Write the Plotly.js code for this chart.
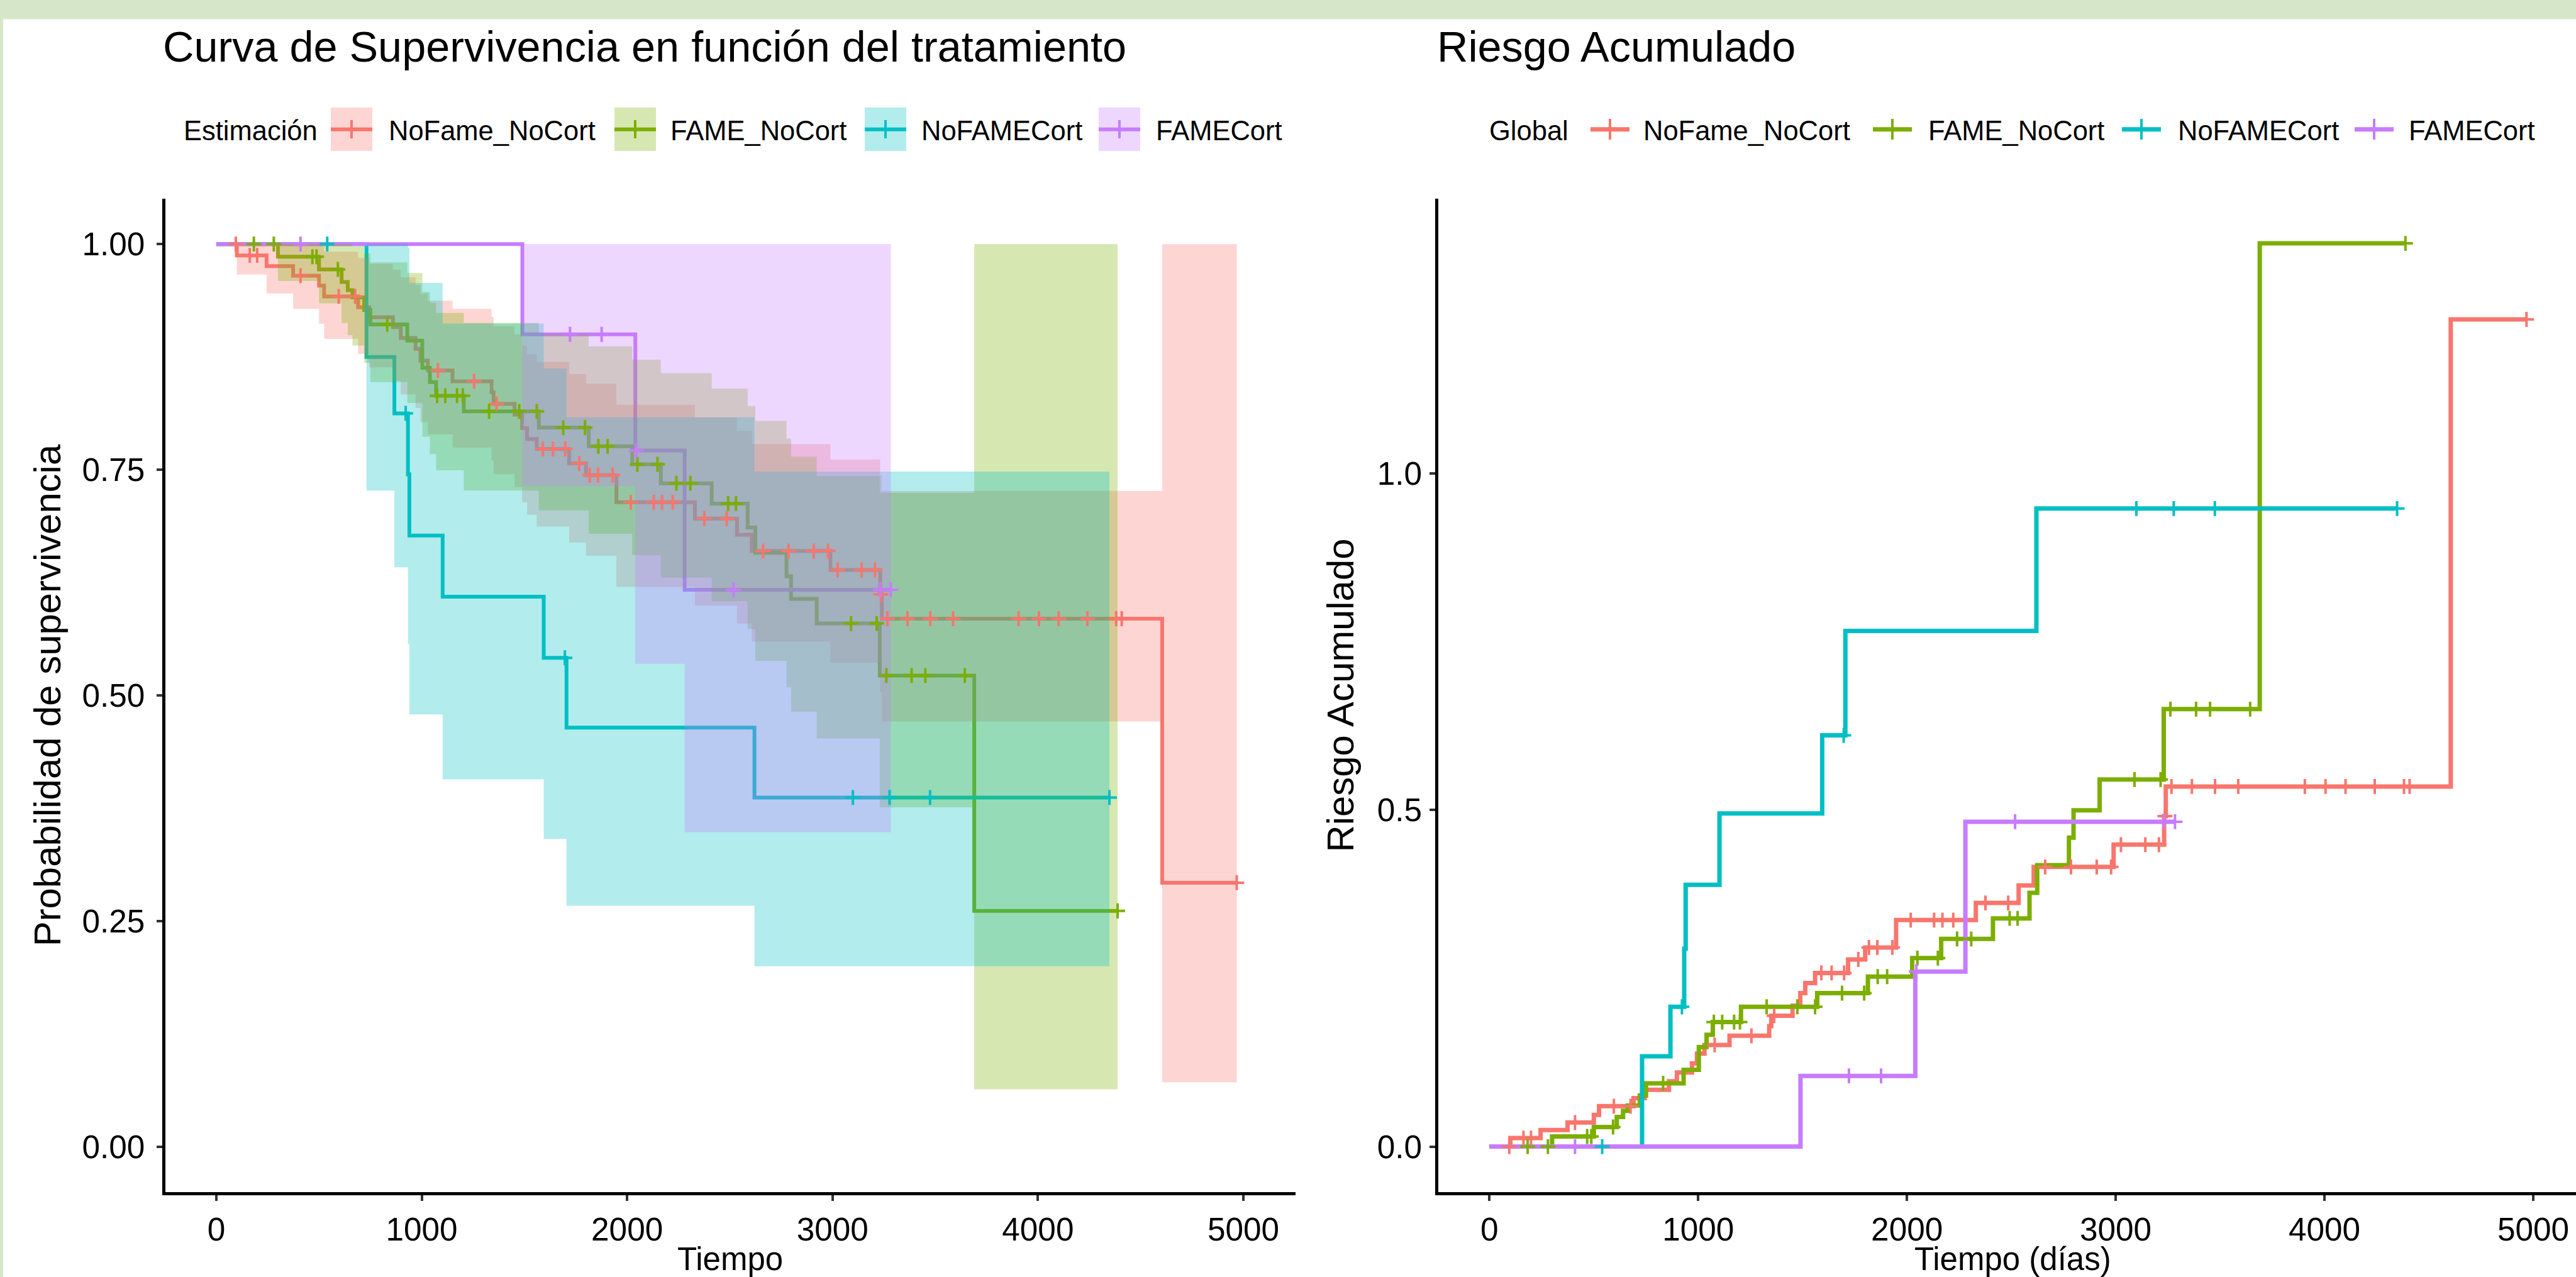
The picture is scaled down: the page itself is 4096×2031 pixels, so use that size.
<!DOCTYPE html>
<html><head><meta charset="utf-8">
<script src="https://cdn.plot.ly/plotly-3.0.1.min.js"></script>
<style>html,body{margin:0;padding:0;background:#fff;overflow:hidden}#chart{width:4096px;height:2031px}</style>
</head><body><div id="chart"></div>
<script>
// ---------- data ----------
const groupNames = ['NoFame_NoCort', 'FAME_NoCort', 'NoFAMECort', 'FAMECort'];
const groupColors = ['#F8766D', '#7CAE00', '#00BFC4', '#C77CFF'];

const redTime  = [0, 100, 245, 374, 500, 525, 690, 744, 860, 898, 970, 994, 1030, 1150, 1340, 1350, 1452, 1489, 1513, 1560, 1718, 1800, 1948, 2330, 2535, 2607, 2990, 3232, 3240, 4605];
const redSurv  = [1, 0.9875, 0.9755, 0.965, 0.954, 0.942, 0.930, 0.919, 0.908, 0.896, 0.884, 0.871, 0.860, 0.848, 0.836, 0.823, 0.811, 0.796, 0.784, 0.773, 0.757, 0.744, 0.714, 0.696, 0.678, 0.660, 0.639, 0.612, 0.585, 0.2925];
const redLower = [1, 0.9662, 0.9453, 0.9282, 0.9116, 0.8949, 0.8784, 0.8634, 0.8488, 0.8335, 0.8185, 0.8028, 0.7891, 0.7746, 0.7602, 0.7451, 0.7308, 0.7140, 0.7001, 0.6871, 0.6695, 0.6547, 0.6202, 0.5995, 0.5796, 0.5595, 0.5363, 0.5036, 0.4711, 0.0715];
const redUpper = [1, 1, 1, 1, 0.9984, 0.9916, 0.9846, 0.9782, 0.9714, 0.9632, 0.9547, 0.9450, 0.9372, 0.9283, 0.9193, 0.9091, 0.9000, 0.8874, 0.8780, 0.8696, 0.8559, 0.8454, 0.8220, 0.8081, 0.7931, 0.7785, 0.7614, 0.7438, 0.7265, 1];
const redHaz   = [0, 0.0126, 0.0246, 0.0357, 0.047, 0.060, 0.072, 0.0843, 0.097, 0.110, 0.1235, 0.138, 0.151, 0.1646, 0.179, 0.1944, 0.2094, 0.228, 0.243, 0.258, 0.278, 0.2958, 0.3365, 0.362, 0.388, 0.4155, 0.4486, 0.491, 0.535, 1.229];
const redEnd   = 4968;
const redCens  = [95, 163, 199, 410, 596, 676, 1079, 1255, 1364, 1590, 1639, 1699, 1767, 1818, 1858, 1930, 2018, 2130, 2170, 2222, 2376, 2485, 2662, 2786, 2909, 2978, 3025, 3142, 3207, 3236, 3267, 3365, 3476, 3587, 3906, 4005, 4101, 4241, 4381, 4408, 4968];

const greenTime  = [0, 300, 500, 610, 640, 663, 720, 750, 930, 1003, 1040, 1070, 1205, 1570, 1813, 2025, 2164, 2412, 2587, 2624, 2776, 2798, 2923, 3230, 3690];
const greenSurv  = [1, 0.986, 0.972, 0.958, 0.949, 0.941, 0.927, 0.911, 0.893, 0.863, 0.847, 0.832, 0.8146, 0.7967, 0.776, 0.756, 0.735, 0.7125, 0.686, 0.658, 0.632, 0.607, 0.5797, 0.522, 0.2613];
const greenLower = [1, 0.9590, 0.9343, 0.9125, 0.8992, 0.8877, 0.8685, 0.8471, 0.8239, 0.7866, 0.7673, 0.7494, 0.7270, 0.7049, 0.6791, 0.6555, 0.6304, 0.6044, 0.5736, 0.5384, 0.5091, 0.4819, 0.4523, 0.3761, 0.0636];
const greenUpper = [1, 1, 1, 1, 1, 0.9975, 0.9895, 0.9797, 0.9679, 0.9468, 0.9350, 0.9237, 0.9128, 0.9004, 0.8867, 0.8720, 0.8570, 0.8400, 0.8205, 0.8041, 0.7846, 0.7646, 0.7430, 0.7245, 1];
const greenHaz   = [0, 0.015, 0.029, 0.044, 0.053, 0.061, 0.076, 0.094, 0.114, 0.148, 0.166, 0.185, 0.2077, 0.228, 0.2525, 0.280, 0.3085, 0.339, 0.377, 0.418, 0.459, 0.4996, 0.5453, 0.650, 1.342];
const greenEnd   = 4388;
const greenCens  = [183, 280, 468, 488, 592, 832, 1075, 1115, 1172, 1200, 1328, 1475, 1560, 1689, 1795, 1860, 1905, 2050, 2148, 2240, 2308, 2492, 2530, 3090, 3215, 3262, 3385, 3452, 3644, 4388];

const cyanTime  = [0, 731, 867, 933, 940, 1102, 1594, 1705, 2620];
const cyanSurv  = [1, 0.875, 0.8125, 0.7448, 0.6771, 0.6094, 0.5417, 0.4643, 0.3869];
const cyanLower = [1, 0.727, 0.642, 0.557, 0.479, 0.407, 0.341, 0.267, 0.200];
const cyanUpper = [1, 1, 1, 0.996, 0.957, 0.912, 0.862, 0.808, 0.748];
const cyanHaz   = [0, 0.134, 0.2077, 0.294, 0.389, 0.495, 0.611, 0.766, 0.948];
const cyanEnd   = 4348;
const cyanCens  = [540, 922, 1697, 3099, 3278, 3475, 4348];

const purpleTime  = [0, 1490, 2040, 2280];
const purpleSurv  = [1, 0.9, 0.7714, 0.6171];
const purpleLower = [1, 0.732, 0.535, 0.3486];
const purpleUpper = [1, 1, 1, 1];
const purpleHaz   = [0, 0.105, 0.260, 0.4826];
const purpleEnd   = 3284;
const purpleCens  = [410, 1722, 1876, 2045, 2518, 3232, 3284];

const xTickVals = [0, 1000, 2000, 3000, 4000, 5000];
const xTickText = ['0', '1000', '2000', '3000', '4000', '5000'];
const survTickVals = [0, 0.25, 0.5, 0.75, 1];
const survTickText = ['0.00', '0.25', '0.50', '0.75', '1.00'];
const hazTickVals = [0, 0.5, 1];
const hazTickText = ['0.0', '0.5', '1.0'];

// ---------- assembly ----------
const groups = [
  {t: redTime, s: redSurv, lo: redLower, up: redUpper, h: redHaz, end: redEnd, c: redCens},
  {t: greenTime, s: greenSurv, lo: greenLower, up: greenUpper, h: greenHaz, end: greenEnd, c: greenCens},
  {t: cyanTime, s: cyanSurv, lo: cyanLower, up: cyanUpper, h: cyanHaz, end: cyanEnd, c: cyanCens},
  {t: purpleTime, s: purpleSurv, lo: purpleLower, up: purpleUpper, h: purpleHaz, end: purpleEnd, c: purpleCens}
];
const FONT = 'Liberation Sans, Arial, Helvetica, sans-serif';
function rgba(hex, a) {
  const r = parseInt(hex.slice(1, 3), 16), g = parseInt(hex.slice(3, 5), 16), b = parseInt(hex.slice(5, 7), 16);
  return 'rgba(' + r + ',' + g + ',' + b + ',' + a + ')';
}
function stepAt(times, vals, x) {
  let k = 0;
  for (let i = 0; i < times.length; i++) if (times[i] <= x) k = i;
  return vals[k];
}
function bandPoly(t, lo, up, end) {
  const xs = [], ys = [];
  for (let i = 0; i < t.length; i++) {
    const nx = i < t.length - 1 ? t[i + 1] : end;
    xs.push(t[i], nx); ys.push(up[i], up[i]);
  }
  for (let i = t.length - 1; i >= 0; i--) {
    const nx = i < t.length - 1 ? t[i + 1] : end;
    xs.push(nx, t[i]); ys.push(lo[i], lo[i]);
  }
  return {xs, ys};
}

const traces = [];
// left: survival step lines (drawn under the ribbons, as in the reference)
groups.forEach((g, i) => {
  traces.push({type: 'scatter', mode: 'lines', xaxis: 'x', yaxis: 'y', name: groupNames[i],
    x: g.t.concat([g.end]), y: g.s.concat([g.s[g.s.length - 1]]),
    line: {shape: 'hv', color: groupColors[i], width: 6}, hoverinfo: 'skip', showlegend: false});
});
// left: confidence ribbons
groups.forEach((g, i) => {
  const p = bandPoly(g.t, g.lo, g.up, g.end);
  traces.push({type: 'scatter', mode: 'lines', xaxis: 'x', yaxis: 'y', name: groupNames[i] + ' IC',
    x: p.xs, y: p.ys, fill: 'toself', fillcolor: rgba(groupColors[i], 0.3),
    line: {width: 0, color: 'rgba(0,0,0,0)'}, hoverinfo: 'skip', showlegend: false});
});
// left: censoring marks
groups.forEach((g, i) => {
  traces.push({type: 'scatter', mode: 'markers', xaxis: 'x', yaxis: 'y', name: groupNames[i] + ' censura',
    x: g.c, y: g.c.map(v => stepAt(g.t, g.s, v)),
    marker: {symbol: 'cross-thin', size: 17, color: groupColors[i], line: {width: 4, color: groupColors[i]}},
    hoverinfo: 'skip', showlegend: false});
});
// right: cumulative hazard lines
groups.forEach((g, i) => {
  traces.push({type: 'scatter', mode: 'lines', xaxis: 'x2', yaxis: 'y2', name: groupNames[i],
    x: g.t.concat([g.end]), y: g.h.concat([g.h[g.h.length - 1]]),
    line: {shape: 'hv', color: groupColors[i], width: 7}, hoverinfo: 'skip', showlegend: false});
});
groups.forEach((g, i) => {
  traces.push({type: 'scatter', mode: 'markers', xaxis: 'x2', yaxis: 'y2', name: groupNames[i] + ' censura',
    x: g.c, y: g.c.map(v => stepAt(g.t, g.h, v)),
    marker: {symbol: 'cross-thin', size: 17, color: groupColors[i], line: {width: 4, color: groupColors[i]}},
    hoverinfo: 'skip', showlegend: false});
});

// ---------- layout ----------
const W = 4096, H = 2031;
const px = v => v / W, py = v => 1 - v / H;
const shapes = [
  {type: 'rect', xref: 'paper', yref: 'paper', x0: 0, x1: 1, y0: py(30.5), y1: 1, fillcolor: '#d5e7c8', line: {width: 0}, layer: 'below'},
  {type: 'rect', xref: 'paper', yref: 'paper', x0: 0, x1: px(5), y0: 0, y1: 1, fillcolor: '#d5e7c8', line: {width: 0}, layer: 'below'}
];
const annotations = [];
function addText(text, x, yc, size, anchor) {
  annotations.push({xref: 'paper', yref: 'paper', x: px(x), y: py(yc), xanchor: anchor || 'left', yanchor: 'middle',
    text: text, showarrow: false, font: {family: FONT, size: size, color: '#000'}, borderpad: 0});
}
// legend (left: ribbon box + line + cross; right: line + cross)
const legKeyL = [526, 977, 1375, 1747], legTxtL = [619, 1067, 1466, 1839];
const legKeyR = [2529, 2978, 3374, 3744], legTxtR = [2614, 3067, 3464, 3831];
const legTextY = 208.1, legKeyY = 205.7;
addText('Estimación', 291, legTextY, 43.5);
addText('Global', 2367, legTextY, 43.5);
groupNames.forEach((n, i) => {
  const c = groupColors[i];
  shapes.push({type: 'rect', xref: 'paper', yref: 'paper', x0: px(legKeyL[i]), x1: px(legKeyL[i] + 66), y0: py(240), y1: py(171), fillcolor: rgba(c, 0.3), line: {width: 0}});
  shapes.push({type: 'line', xref: 'paper', yref: 'paper', x0: px(legKeyL[i]), x1: px(legKeyL[i] + 66), y0: py(legKeyY), y1: py(legKeyY), line: {color: c, width: 6}});
  shapes.push({type: 'line', xref: 'paper', yref: 'paper', x0: px(legKeyL[i] + 33), x1: px(legKeyL[i] + 33), y0: py(191), y1: py(220), line: {color: c, width: 4}});
  shapes.push({type: 'line', xref: 'paper', yref: 'paper', x0: px(legKeyR[i]), x1: px(legKeyR[i] + 62), y0: py(legKeyY), y1: py(legKeyY), line: {color: c, width: 7}});
  shapes.push({type: 'line', xref: 'paper', yref: 'paper', x0: px(legKeyR[i] + 31), x1: px(legKeyR[i] + 31), y0: py(189), y1: py(222), line: {color: c, width: 4}});
  addText(n, legTxtL[i] - 2, legTextY, 43.5);
  addText(n, legTxtR[i] - 2, legTextY, 43.5);
});
// right panel title
addText('Riesgo Acumulado', 2284, 74, 68.4);
// x-axis titles, low under the tick labels (kept fully inside the picture)
addText('Tiempo', 1161, 2002, 51, 'center');
addText('Tiempo (días)', 3200, 2002, 51, 'center');

function axisBase() {
  return {showgrid: false, zeroline: false, showline: true, linecolor: '#000', linewidth: 5,
    ticks: 'outside', ticklen: 9, tickwidth: 4, tickcolor: '#333333',
    tickfont: {family: FONT, size: 51.3, color: '#000'}, fixedrange: true};
}
const yDom = [1 - 1895.7 / H, 1 - 316.4 / H];
const layout = {
  width: W, height: H,
  margin: {l: 0, r: 0, t: 0, b: 0, autoexpand: false},
  paper_bgcolor: '#ffffff', plot_bgcolor: 'rgba(0,0,0,0)',
  showlegend: false,
  font: {family: FONT, color: '#000'},
  title: {text: 'Curva de Supervivencia en función del tratamiento', xref: 'paper', yref: 'container',
    x: px(259), xanchor: 'left', y: 1 - 74 / H, yanchor: 'middle', font: {family: FONT, size: 68.4, color: '#000'}},
  xaxis: Object.assign(axisBase(), {domain: [px(262.6), px(2059.6)], range: [-249, 5253], anchor: 'y',
    tickvals: xTickVals, ticktext: xTickText, ticklabelstandoff: 2}),
  yaxis: Object.assign(axisBase(), {domain: yDom, range: [-0.05, 1.05], anchor: 'x',
    tickvals: survTickVals, ticktext: survTickText, ticklabelstandoff: 8,
    title: {text: 'Probabilidad de supervivencia', font: {family: FONT, size: 59.85, color: '#000'}, standoff: 16}}),
  xaxis2: Object.assign(axisBase(), {domain: [px(2287.2), 1], range: [-244.4, 5205], anchor: 'y2',
    tickvals: xTickVals, ticktext: xTickText, ticklabelstandoff: 2}),
  yaxis2: Object.assign(axisBase(), {domain: yDom, range: [-0.0674, 1.408], anchor: 'x2',
    tickvals: hazTickVals, ticktext: hazTickText, ticklabelstandoff: 2,
    title: {text: 'Riesgo Acumulado', font: {family: FONT, size: 59.85, color: '#000'}, standoff: 19}}),
  shapes: shapes,
  annotations: annotations
};
Plotly.newPlot('chart', traces, layout, {staticPlot: true, displayModeBar: false});
</script></body></html>
